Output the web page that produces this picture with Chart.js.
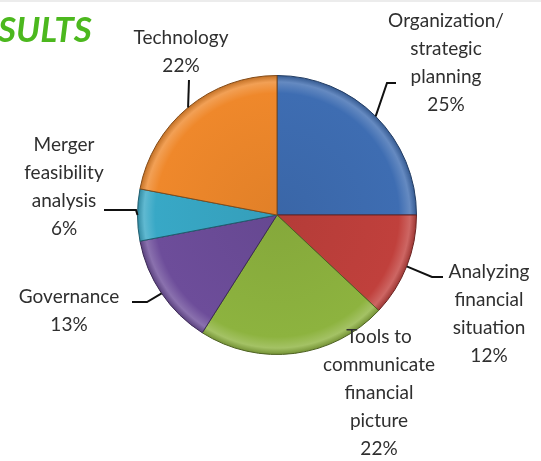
<!DOCTYPE html>
<html>
<head>
<meta charset="utf-8">
<script src="https://cdn.jsdelivr.net/npm/chart.js@4.4.0/dist/chart.umd.min.js"></script>
<style>
  html, body { margin: 0; padding: 0; background: #fff; }
  #wrap { position: relative; width: 541px; height: 461px; border-top: 2px solid #ececec; box-sizing: border-box; }
  canvas { display: block; }
</style>
</head>
<body>
<div id="wrap"><canvas id="myChart" width="541" height="459"></canvas></div>
<script>
var labels = [
    ['Organization/', 'strategic', 'planning'],
    ['Analyzing', 'financial', 'situation'],
    ['Tools to', 'communicate', 'financial', 'picture'],
    ['Governance'],
    ['Merger', 'feasibility', 'analysis'],
    ['Technology']
];
var values = [25, 12, 22, 13, 6, 22];
var colors = ['#3e6db2', '#c0403c', '#8db33f', '#6d4d9a', '#38a8c6', '#ef882b'];

// where each label sits and how its leader line bends (canvas pixels)
var labelPos = [
    {x: 446, y: 19, leader: [[387, 81], [396, 81]]},
    {x: 489, y: 270, leader: [[432, 275], [443, 275]]},
    {x: 379, y: 335, leader: null},
    {x: 69, y: 295, leader: [[147, 300], [132, 300]]},
    {x: 64, y: 143, leader: [[136, 208], [104, 208]]},
    {x: 181, y: 36, leader: [[189, 78]]}
];

function shade(hex, f) {
    var r = parseInt(hex.substr(1, 2), 16), g = parseInt(hex.substr(3, 2), 16), b = parseInt(hex.substr(5, 2), 16);
    if (f < 0) {
        r = r * (1 + f); g = g * (1 + f); b = b * (1 + f);
    } else {
        r = r + (255 - r) * f; g = g + (255 - g) * f; b = b + (255 - b) * f;
    }
    return 'rgb(' + Math.round(r) + ',' + Math.round(g) + ',' + Math.round(b) + ')';
}

var labelPlugin = {
    id: 'pieLabels',
    afterDraw: function (chart) {
        var c = chart.ctx;
        var arcs = chart.getDatasetMeta(0).data;
        var total = values.reduce(function (a, b) { return a + b; }, 0);
        c.save();
        c.strokeStyle = '#111';
        c.lineWidth = 2;
        for (var i = 0; i < arcs.length; i++) {
            var a = arcs[i];
            var p = labelPos[i];
            if (p.leader) {
                var mid = (a.startAngle + a.endAngle) / 2;
                c.beginPath();
                c.moveTo(a.x + Math.cos(mid) * a.outerRadius, a.y + Math.sin(mid) * a.outerRadius);
                p.leader.forEach(function (pt) { c.lineTo(pt[0], pt[1]); });
                c.stroke();
            }
            var lines = labels[i].concat([Math.round(values[i] / total * 100) + '%']);
            c.fillStyle = '#2f2f2f';
            c.font = '19px Lato';
            c.textAlign = 'center';
            c.textBaseline = 'middle';
            lines.forEach(function (t, j) {
                c.fillText(t, p.x, p.y + j * 28);
            });
        }
        c.fillStyle = '#4cb81e';
        c.font = 'italic bold 35px Lato';
        c.textAlign = 'left';
        c.textBaseline = 'alphabetic';
        c.fillText('SULTS', -2, 40);
        c.restore();
    }
};

var ctx = document.getElementById('myChart');
var myChart = new Chart(ctx, {
    type: 'pie',
    data: {
        labels: labels.map(function (l) { return l.join(' '); }),
        datasets: [{
            data: values,
            backgroundColor: function (context) {
                var chart = context.chart;
                var area = chart.chartArea;
                if (!area) return colors[context.dataIndex];
                var cx = (area.left + area.right) / 2, cy = (area.top + area.bottom) / 2;
                var r = Math.min(area.right - area.left, area.bottom - area.top) / 2;
                var base = colors[context.dataIndex];
                var g = chart.ctx.createRadialGradient(cx, cy, 0, cx, cy, r);
                g.addColorStop(0, shade(base, -0.06));
                g.addColorStop(0.87, base);
                g.addColorStop(0.95, shade(base, 0.2));
                g.addColorStop(1, shade(base, -0.2));
                return g;
            },
            borderColor: colors.map(function (c) { return shade(c, -0.45); }),
            borderWidth: 1
        }]
    },
    options: {
        responsive: false,
        animation: false,
        rotation: 0,
        layout: {padding: {top: 73, bottom: 106, left: 137, right: 124}},
        plugins: {
            legend: {display: false},
            tooltip: {enabled: false}
        }
    },
    plugins: [labelPlugin]
});
</script>
</body>
</html>
